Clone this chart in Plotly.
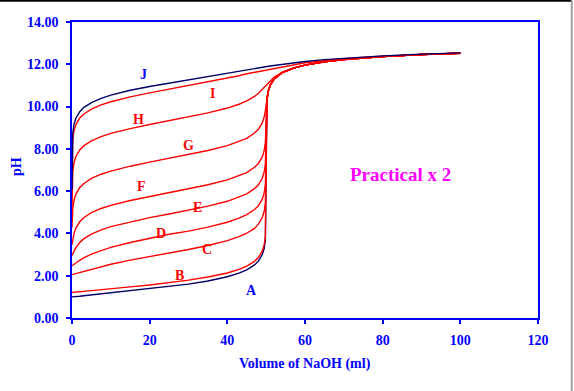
import plotly.graph_objects as go

# Volume of NaOH added (ml)
volume = [0, 0.2, 0.5, 1, 2, 3, 5, 7.5, 10, 15, 20, 25, 30, 35, 40, 43, 45, 47, 48, 49,
          49.5, 49.8, 50, 50.2, 50.5, 51, 52, 54, 57, 60, 65, 70, 80, 90, 100]

# pH readings for each curve
ph_A = [1.00, 1.00, 1.01, 1.02, 1.03, 1.05, 1.09, 1.13, 1.18, 1.27, 1.37, 1.48, 1.60, 1.75, 1.95,
        2.12, 2.28, 2.51, 2.69, 3.00, 3.30, 3.70, 7.00, 10.30, 10.70, 11.00,
        11.29, 11.59, 11.82, 11.96, 12.12, 12.22, 12.36, 12.46, 12.52]
ph_B = [1.21, 1.21, 1.22, 1.23, 1.24, 1.26, 1.29, 1.33, 1.38, 1.47, 1.56, 1.67, 1.79, 1.94, 2.13,
        2.30, 2.45, 2.68, 2.86, 3.16, 3.48, 3.87, 6.85, 10.30, 10.70, 11.00,
        11.29, 11.59, 11.82, 11.96, 12.12, 12.22, 12.36, 12.46, 12.52]
ph_C = [2.05, 2.06, 2.07, 2.10, 2.15, 2.21, 2.31, 2.43, 2.54, 2.74, 2.90, 3.07, 3.24, 3.43, 3.66,
        3.85, 4.01, 4.24, 4.44, 4.75, 5.05, 5.46, 7.88, 10.30, 10.70, 11.00,
        11.29, 11.59, 11.82, 11.96, 12.12, 12.22, 12.36, 12.46, 12.52]
ph_D = [2.47, 2.50, 2.54, 2.61, 2.73, 2.84, 3.02, 3.19, 3.34, 3.57, 3.76, 3.96, 4.11, 4.30, 4.53,
        4.72, 4.89, 5.13, 5.31, 5.62, 5.93, 6.33, 8.32, 10.30, 10.70, 11.00,
        11.29, 11.59, 11.82, 11.96, 12.12, 12.22, 12.36, 12.46, 12.52]
ph_E = [2.96, 3.05, 3.16, 3.33, 3.57, 3.74, 3.97, 4.17, 4.32, 4.55, 4.75, 4.92, 5.10, 5.29, 5.52,
        5.71, 5.87, 6.12, 6.30, 6.61, 6.92, 7.30, 8.81, 10.30, 10.70, 11.00,
        11.29, 11.59, 11.82, 11.96, 12.12, 12.22, 12.36, 12.46, 12.52]
ph_F = [3.47, 3.71, 3.98, 4.25, 4.55, 4.74, 4.98, 5.18, 5.33, 5.56, 5.75, 5.93, 6.11, 6.30, 6.53,
        6.72, 6.88, 7.13, 7.31, 7.62, 7.93, 8.32, 9.31, 10.31, 10.70, 11.00,
        11.29, 11.59, 11.82, 11.96, 12.12, 12.22, 12.36, 12.46, 12.52]
ph_G = [4.27, 5.16, 5.56, 5.86, 6.17, 6.35, 6.60, 6.80, 6.95, 7.18, 7.37, 7.55, 7.73, 7.92, 8.15,
        8.34, 8.50, 8.75, 8.93, 9.23, 9.52, 9.82, 10.12, 10.42, 10.72, 11.00,
        11.30, 11.59, 11.82, 11.96, 12.12, 12.22, 12.36, 12.46, 12.52]
ph_H = [5.16, 6.93, 7.33, 7.64, 7.95, 8.14, 8.38, 8.58, 8.73, 8.96, 9.15, 9.33, 9.51, 9.70, 9.93,
        10.11, 10.27, 10.48, 10.63, 10.81, 10.91, 10.97, 11.01, 11.06, 11.12, 11.21,
        11.38, 11.61, 11.83, 11.96, 12.12, 12.22, 12.36, 12.46, 12.52]
ph_I = [5.92, 8.44, 8.84, 9.15, 9.46, 9.64, 9.88, 10.08, 10.23, 10.46, 10.65, 10.82, 10.99, 11.16, 11.34,
        11.46, 11.55, 11.62, 11.67, 11.70, 11.72, 11.73, 11.74, 11.75, 11.76, 11.78,
        11.82, 11.89, 11.98, 12.07, 12.17, 12.26, 12.38, 12.47, 12.53]
ph_J = [6.07, 8.75, 9.15, 9.45, 9.76, 9.95, 10.19, 10.39, 10.54, 10.77, 10.95, 11.11, 11.27, 11.43, 11.58,
        11.67, 11.74, 11.80, 11.84, 11.87, 11.88, 11.89, 11.89, 11.89, 11.90, 11.92,
        11.94, 11.99, 12.06, 12.13, 12.22, 12.29, 12.40, 12.48, 12.54]

curve_names = ["A", "B", "C", "D", "E", "F", "G", "H", "I", "J"]
curve_values = [ph_A, ph_B, ph_C, ph_D, ph_E, ph_F, ph_G, ph_H, ph_I, ph_J]

# Curve label positions (volume, pH)
label_x = [46.1, 27.6, 34.8, 22.9, 32.2, 18.0, 30.1, 17.0, 36.1, 18.3]
label_y = [1.32, 2.03, 3.26, 4.02, 5.25, 6.20, 8.14, 9.37, 10.64, 11.54]

x_ticks = [0, 20, 40, 60, 80, 100, 120]
x_ticktext = ["0", "20", "40", "60", "80", "100", "120"]
y_ticks = [0, 2, 4, 6, 8, 10, 12, 14]
y_ticktext = ["0.00", "2.00", "4.00", "6.00", "8.00", "10.00", "12.00", "14.00"]

NAVY = "#000066"
RED = "#ff0000"
BLUE = "#0000ff"
FONT = "Liberation Serif, Times New Roman, serif"

fig = go.Figure()
for name, vals in zip(curve_names, curve_values):
    color = NAVY if name in ("A", "J") else RED
    fig.add_trace(go.Scatter(x=volume, y=vals, mode="lines", name=name,
                             line=dict(color=color, width=1.4),
                             hoverinfo="skip", showlegend=False))

for name, lx, ly in zip(curve_names, label_x, label_y):
    fig.add_annotation(x=lx, y=ly, text=name, showarrow=False,
                       font=dict(family=FONT, size=14, color=BLUE if name in ("A", "J") else RED,
                                 weight="bold"))

fig.add_annotation(x=84.5, y=6.81, text="Practical x 2", showarrow=False,
                   font=dict(family=FONT, size=19, color="#ff00ff", weight="bold"))

# Axis titles
fig.add_annotation(xref="paper", yref="paper", x=0.50, y=-0.155, xanchor="center", yanchor="middle",
                   text="Volume of NaOH (ml)", showarrow=False,
                   font=dict(family=FONT, size=14, color=BLUE, weight="bold"))
fig.add_annotation(xref="paper", yref="paper", x=-0.120, y=0.51, xanchor="center", yanchor="middle",
                   text="pH", textangle=-90, showarrow=False,
                   font=dict(family=FONT, size=14, color=BLUE, weight="bold"))

axis_common = dict(showgrid=False, zeroline=False, showline=True, linecolor=BLUE, linewidth=1.5,
                   mirror=True, ticks="outside", ticklen=4, tickwidth=1.5, tickcolor=BLUE,
                   tickfont=dict(family=FONT, size=14, color=BLUE, weight="bold"))

fig.update_xaxes(range=[0, 120], tickvals=x_ticks, ticktext=x_ticktext, ticklabelstandoff=4,
                 **axis_common)
fig.update_yaxes(range=[0, 14], tickvals=y_ticks, ticktext=y_ticktext, ticklabelstandoff=5,
                 layer="below traces", **axis_common)

# frame lines of the original picture
fig.add_shape(type="line", xref="paper", yref="paper", x0=-0.16, x1=1.072, y0=1.0715, y1=1.0715,
              layer="above", line=dict(color="black", width=2))
fig.add_shape(type="line", xref="paper", yref="paper", x0=1.0725, x1=1.0725, y0=1.073, y1=-0.26,
              layer="above", line=dict(color="#a0a0a0", width=2))

fig.update_layout(width=574, height=391, margin=dict(l=72, r=36, t=22, b=73),
                  paper_bgcolor="white", plot_bgcolor="white", showlegend=False)

fig.write_html("out.html", config={"displayModeBar": False},
               post_script="document.body.style.margin='0';")
